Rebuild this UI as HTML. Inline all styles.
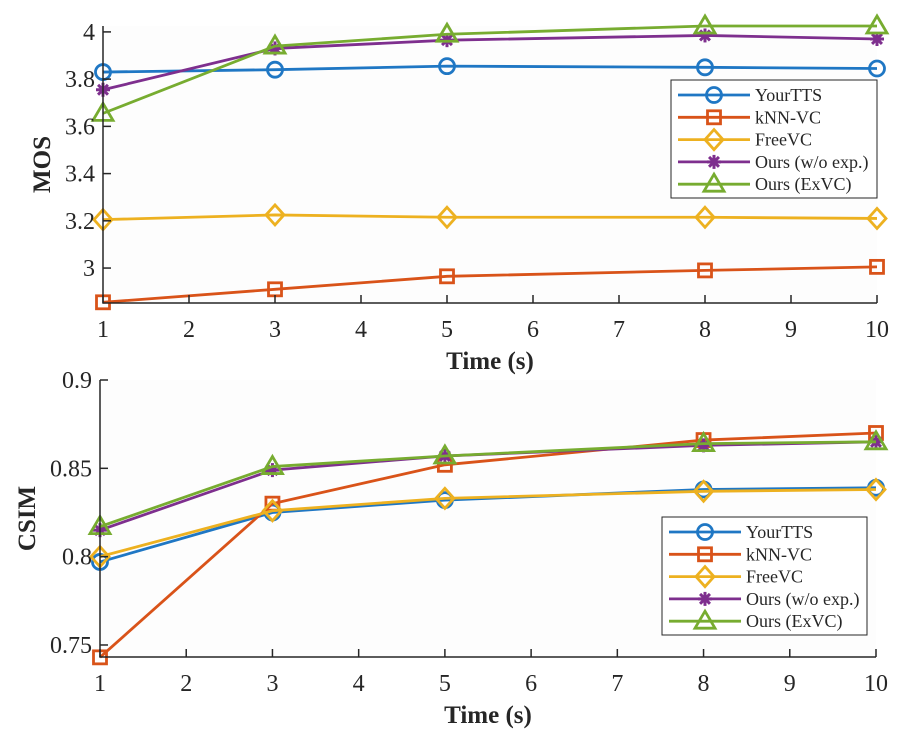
<!DOCTYPE html>
<html><head><meta charset="utf-8"><style>
body{margin:0;background:#fff}
svg text{font-family:"Liberation Serif",serif;fill:#262626}
</style></head><body>
<svg id="c" width="916" height="737" xmlns="http://www.w3.org/2000/svg"></svg>
<script>
const times=[1,3,5,8,10];
const seriesNames=["YourTTS","kNN-VC","FreeVC","Ours (w/o exp.)","Ours (ExVC)"];
const colors=["#1f77c4","#D95319","#EDB120","#7E2F8E","#77AC30"];
const markers=["circle","square","diamond","star","triangle"];
const mosYourTTS=[3.83,3.84,3.855,3.85,3.845];
const mosKNN=[2.855,2.91,2.965,2.99,3.005];
const mosFreeVC=[3.205,3.225,3.215,3.215,3.21];
const mosOursWo=[3.755,3.93,3.965,3.985,3.97];
const mosExVC=[3.655,3.94,3.99,4.025,4.025];
const csimYourTTS=[0.797,0.825,0.832,0.838,0.839];
const csimKNN=[0.743,0.830,0.852,0.866,0.870];
const csimFreeVC=[0.800,0.826,0.833,0.837,0.838];
const csimOursWo=[0.815,0.849,0.857,0.863,0.865];
const csimExVC=[0.817,0.851,0.857,0.864,0.865];
const xTicks=[1,2,3,4,5,6,7,8,9,10];
const mosTicks=[3,3.2,3.4,3.6,3.8,4];
const mosTickLabels=["3","3.2","3.4","3.6","3.8","4"];
const csimTicks=[0.75,0.8,0.85,0.9];
const csimTickLabels=["0.75","0.8","0.85","0.9"];

const svg=document.getElementById('c');
const NS="http://www.w3.org/2000/svg";
function mk(t,a,p){const e=document.createElementNS(NS,t);for(const k in a)e.setAttribute(k,a[k]);(p||svg).appendChild(e);return e;}

function marker(g,type,x,y,col){
  let e;
  if(type==="circle")e=mk("circle",{cx:x,cy:y,r:7.5,fill:"none",stroke:col,"stroke-width":2.8},g);
  else if(type==="square")e=mk("rect",{x:x-6.5,y:y-6.5,width:13,height:13,fill:"none",stroke:col,"stroke-width":2.8},g);
  else if(type==="diamond")e=mk("polygon",{points:`${x},${y-10} ${x+9},${y} ${x},${y+10} ${x-9},${y}`,fill:"none",stroke:col,"stroke-width":2.8},g);
  else if(type==="triangle")e=mk("polygon",{points:`${x},${y-10} ${x+10},${y+7} ${x-10},${y+7}`,fill:"none",stroke:col,"stroke-width":2.8},g);
  else{e=mk("g",{},g);for(let a=0;a<4;a++){const an=a*Math.PI/4;mk("line",{x1:x-7*Math.cos(an),y1:y-7*Math.sin(an),x2:x+7*Math.cos(an),y2:y+7*Math.sin(an),stroke:col,"stroke-width":3},e);}}
  
  
}

function chart(opt){
  const g=mk("g",{});
  
  
  const {x0,x1,yTop,yBot,ymin,ymax}=opt;
  const X=v=>x0+(v-1)/9*(x1-x0);
  const Y=v=>yBot-(v-ymin)/(ymax-ymin)*(yBot-yTop);
  mk("rect",{x:x0,y:yTop,width:x1-x0,height:yBot-yTop,fill:"#fdfdfd"},g);
  opt.data.forEach((d,i)=>{
    const pl=mk("polyline",{points:d.map((v,j)=>X(times[j])+","+Y(v)).join(" "),fill:"none",stroke:colors[i],"stroke-width":2.8},g);
    
    
    d.forEach((v,j)=>marker(g,markers[i],X(times[j]),Y(v),colors[i]));
  });
  const ax=mk("path",{d:`M${x0},${yTop} L${x0},${yBot} L${x1},${yBot}`,fill:"none",stroke:"#262626","stroke-width":1.5},g);
  
  
  xTicks.forEach(t=>{
    mk("line",{x1:X(t),y1:yBot,x2:X(t),y2:yBot-8,stroke:"#262626","stroke-width":1.5},g);
    const tx=mk("text",{x:X(t),y:yBot+34,"text-anchor":"middle","font-size":24},g);tx.textContent=t;
    
    
  });
  opt.yt.forEach((t,i)=>{
    mk("line",{x1:x0,y1:Y(t),x2:x0+8,y2:Y(t),stroke:"#262626","stroke-width":1.5},g);
    const tx=mk("text",{x:x0-8,y:Y(t)+8,"text-anchor":"end","font-size":24},g);tx.textContent=opt.yl[i];
    
    
  });
  const xt=mk("text",{x:(x0+x1)/2,y:yBot+66,"text-anchor":"middle","font-size":25,"font-weight":"bold"},g);xt.textContent="Time (s)";
  
  
  const yc=(yTop+yBot)/2;
  const yt=mk("text",{x:0,y:0,"text-anchor":"middle","font-size":25,"font-weight":"bold",transform:`translate(${opt.ytx},${yc}) rotate(-90)`},g);yt.textContent=opt.ytitle;
  
  
  const L=opt.leg;
  const lg=mk("g",{},g);
  
  
  mk("rect",{x:L.x,y:L.y,width:L.w,height:L.h,fill:"#fff",stroke:"#262626","stroke-width":1},lg);
  seriesNames.forEach((n,i)=>{
    const yy=L.y+15+i*22.3;
    const e=mk("g",{},lg);
    
    
    mk("line",{x1:L.x+7,y1:yy,x2:L.x+79,y2:yy,stroke:colors[i],"stroke-width":2.8},e);
    marker(e,markers[i],L.x+43,yy,colors[i]);
    const t=mk("text",{x:L.x+84,y:yy+6,"font-size":18,fill:"#000"},e);t.textContent=n;
  });
}
chart({name:"mos-chart",x0:103,x1:877,yTop:26,yBot:303,ymin:2.852,ymax:4.025,data:[mosYourTTS,mosKNN,mosFreeVC,mosOursWo,mosExVC],yt:mosTicks,yl:mosTickLabels,ytitle:"MOS",ytx:50,leg:{x:671,y:80,w:206,h:118}});
chart({name:"csim-chart",x0:100,x1:876,yTop:380,yBot:657,ymin:0.7432,ymax:0.9,data:[csimYourTTS,csimKNN,csimFreeVC,csimOursWo,csimExVC],yt:csimTicks,yl:csimTickLabels,ytitle:"CSIM",ytx:35,leg:{x:662,y:517,w:205,h:118}});
</script>
</body></html>
